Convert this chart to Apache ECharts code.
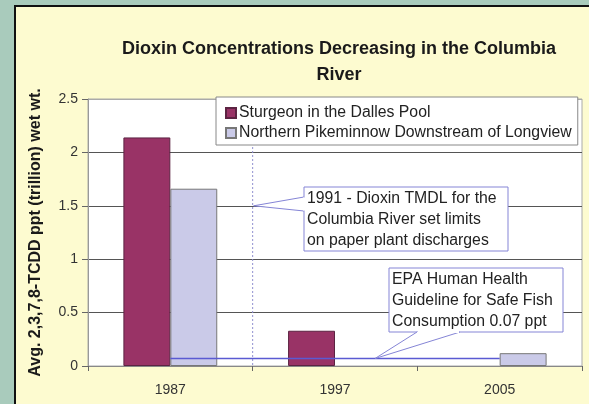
<!DOCTYPE html>
<html>
<head>
<meta charset="utf-8">
<script src="https://cdn.jsdelivr.net/npm/echarts@6/dist/echarts.min.js"></script>
<style>
  html, body { margin: 0; padding: 0; background: #a9cbbc; }
  #chart { width: 589px; height: 404px; }
</style>
</head>
<body>
<div id="chart"></div>
<script>
// data
const categories = ['1987', '1997', '2005']
const sturgeon = [2.14, 0.33, '-']
const pikeminnow = [1.66, '-', 0.12]
const guideline = [0.07, 0.07, 0.07]
const titleLines = ['Dioxin Concentrations Decreasing in the Columbia', 'River']
const tmdlNote = ['1991 - Dioxin TMDL for the', 'Columbia River set limits', 'on paper plant discharges']
const epaNote = ['EPA Human Health', 'Guideline for Safe Fish', 'Consumption 0.07 ppt']

const FONT = '"Liberation Sans", Arial, sans-serif'
const chart = echarts.init(document.getElementById('chart'))

const option = {
  animation: false,
  textStyle: { fontFamily: FONT },
  title: {
    text: titleLines.join('\n'),
    left: 334,
    textAlign: 'center',
    top: 31,
    textStyle: { fontSize: 18, fontWeight: 'bold', color: '#1a1a1a', lineHeight: 26, fontFamily: FONT }
  },
  legend: {
    data: ['Sturgeon in the Dalles Pool', 'Northern Pikeminnow Downstream of Longview'],
    orient: 'vertical',
    left: 216,
    top: 97,
    padding: [8, 6, 4, 9],
    itemWidth: 10,
    itemHeight: 10,
    itemGap: 4,
    icon: 'rect',
    backgroundColor: '#fff',
    borderColor: '#888',
    borderWidth: 1,
    textStyle: { fontSize: 15.8, color: '#222', fontFamily: FONT, padding: [0, 0, 0, -2] }
  },
  grid: {
    left: 88, right: 7, top: 99, bottom: 38,
    show: true, backgroundColor: '#fff', borderColor: '#aaa', borderWidth: 1
  },
  xAxis: {
    type: 'category',
    data: categories,
    axisLine: { lineStyle: { color: '#888' } },
    axisTick: { show: true, length: 5, lineStyle: { color: '#666' } },
    axisLabel: { color: '#333', fontSize: 14, margin: 17, fontFamily: FONT }
  },
  yAxis: {
    type: 'value',
    min: 0, max: 2.5, interval: 0.5,
    name: 'Avg. 2,3,7,8-TCDD ppt (trillion) wet wt.',
    nameLocation: 'middle',
    nameGap: 44,
    nameTextStyle: { fontSize: 16, fontWeight: 'bold', color: '#1a1a1a', fontFamily: FONT },
    axisLine: { show: true, lineStyle: { color: '#999' } },
    axisTick: { show: true, length: 6, lineStyle: { color: '#666' } },
    axisLabel: { color: '#333', fontSize: 14, margin: 10, fontFamily: FONT },
    splitLine: { show: true, lineStyle: { color: ['#999', '#555', '#555', '#555', '#555', '#aaa'] } }
  },
  series: [
    {
      name: 'Sturgeon in the Dalles Pool',
      type: 'bar',
      data: sturgeon,
      barGap: 0,
      barCategoryGap: '43%',
      itemStyle: { color: '#993366', borderColor: '#5c2342', borderWidth: 1 }
    },
    {
      name: 'Northern Pikeminnow Downstream of Longview',
      type: 'bar',
      data: pikeminnow,
      itemStyle: { color: '#cacae8', borderColor: '#777', borderWidth: 1 }
    },
    {
      name: 'guideline',
      type: 'line',
      data: guideline,
      symbol: 'none',
      z: 5,
      lineStyle: { color: '#5a5ad2', width: 1.5 }
    }
  ]
}
chart.setOption(option)

// annotations: boundary line at 1991 and the two callouts
const px = (cat, val) => chart.convertToPixel({ gridIndex: 0 }, [cat, val])
const p87 = px('1987', 1.5)
const p97 = px('1997', 1.5)
const xb = (p87[0] + p97[0]) / 2
const yTop = px('1987', 2.5)[1]
const yZero = px('1987', 0)[1]
const tipEpa = px('1997', guideline[1])
tipEpa[0] += 40

const boxStyle = { fill: '#fff', stroke: '#8585d6', lineWidth: 1 }
const noteText = (lines, x, y) => ({
  type: 'text', x: x, y: y, z: 101,
  style: { text: lines.join('\n'), fontSize: 15.8, lineHeight: 21, fill: '#222', fontFamily: FONT }
})

chart.setOption({
  graphic: [
    { type: 'rect', z: -100, shape: { x: 15, y: 6, width: 600, height: 420 },
      style: { fill: '#fdfbd0', stroke: '#111', lineWidth: 2 } },
    { type: 'line', z: 3, shape: { x1: xb, y1: yTop, x2: xb, y2: yZero },
      style: { stroke: '#9090d0', lineWidth: 1, lineDash: [2, 2] } },
    { type: 'rect', z: 100, shape: { x: 304, y: 187, width: 204, height: 64 }, style: boxStyle },
    { type: 'polyline', z: 100, shape: { points: [[304, 197], [xb + 1, p87[1]], [304, 211]] },
      style: { fill: '#fff', stroke: '#8585d6', lineWidth: 1 } },
    { type: 'line', z: 100, shape: { x1: 304, y1: 197.5, x2: 304, y2: 210.5 }, style: { stroke: '#fff', lineWidth: 2 } },
    noteText(tmdlNote, 307, 188),
    { type: 'rect', z: 100, shape: { x: 389, y: 268, width: 174, height: 64 }, style: boxStyle },
    { type: 'polyline', z: 100, shape: { points: [[417, 332], [tipEpa[0], tipEpa[1]], [460, 332]] },
      style: { fill: '#fff', stroke: '#8585d6', lineWidth: 1 } },
    { type: 'line', z: 100, shape: { x1: 418, y1: 332, x2: 459, y2: 332 }, style: { stroke: '#fff', lineWidth: 2 } },
    noteText(epaNote, 392, 269)
  ]
})
</script>
</body>
</html>
